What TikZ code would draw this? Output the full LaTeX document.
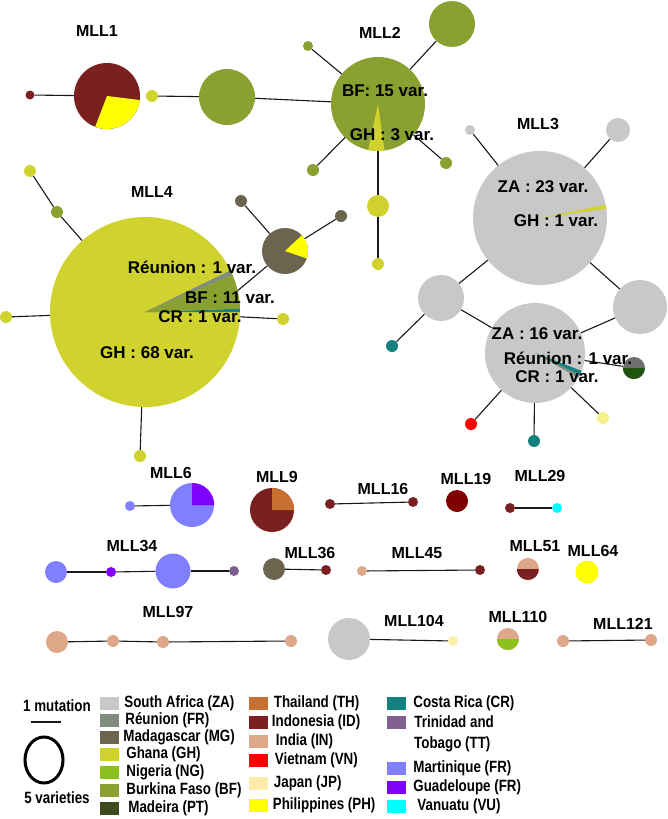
\documentclass[tikz,border=0pt]{standalone}
\usepackage{fontspec}
\setmainfont{Liberation Sans}
\newfontfamily\legfam[FakeStretch=0.82]{Liberation Sans}
\usepackage{xcolor}
\usepackage{tikz}
\usetikzlibrary{positioning}

\newcommand{\labfont}{\fontsize{16}{19}\selectfont\bfseries}
\newcommand{\varfont}{\fontsize{17}{20}\selectfont\bfseries}
\newcommand{\legfont}{\legfam\fontsize{16.3}{19}\selectfont\bfseries}

\definecolor{cZA}{RGB}{200,200,200}
\definecolor{cRE}{RGB}{128,141,126}
\definecolor{cMG}{RGB}{107,101,80}
\definecolor{cGH}{RGB}{208,210,46}
\definecolor{cNG}{RGB}{140,192,26}
\definecolor{cBF}{RGB}{138,160,48}
\definecolor{cPT}{RGB}{62,74,26}
\definecolor{cTH}{RGB}{200,112,50}
\definecolor{cID}{RGB}{122,32,32}
\definecolor{cIN}{RGB}{222,168,136}
\definecolor{cVN}{RGB}{255,0,0}
\definecolor{cJP}{RGB}{253,236,170}
\definecolor{cPH}{RGB}{255,255,0}
\definecolor{cCR}{RGB}{20,128,128}
\definecolor{cTT}{RGB}{128,96,144}
\definecolor{cMQ}{RGB}{128,128,255}
\definecolor{cGP}{RGB}{128,0,255}
\definecolor{cVU}{RGB}{0,255,255}
\definecolor{cDR}{RGB}{128,0,0}
\definecolor{cPY}{RGB}{244,240,138}
\definecolor{cGR}{RGB}{110,110,110}
\definecolor{cDG}{RGB}{32,82,16}

\begin{document}
\begin{tikzpicture}[
      x=1pt, y=-1pt,
      hap/.style={circle, inner sep=0pt, draw=none},
      link/.style={line width=1.1pt, draw=black!90},
      mll/.style={font=\labfont, inner sep=0pt},
      varlab/.style={font=\varfont, inner sep=0pt},
      swatch/.style={rectangle, inner sep=0pt, minimum width=19pt, minimum height=13pt, draw=none},
      legtext/.style={font=\legfont, inner sep=0pt, anchor=west}
    ]
    \useasboundingbox (0,0) rectangle (668,819);

    % MLL1
    \node[hap, fill=cID, minimum size=66pt] (m1) at (107,96) {};
    \fill[cPH] (m1.center) -- +(-111:33pt) arc[start angle=-111, end angle=-7, radius=33pt] -- cycle;
    \node[hap, fill=cID, minimum size=9pt] (m1a) at (30,95) {};
    \node[mll] at (97,31) {MLL1};
    \draw[link] (m1a) -- (m1);

    % MLL2
    \node[hap, fill=cBF, minimum size=94pt] (m2) at (378,104) {};
    \fill[cGH] (m2.center) -- +(-102:47pt) arc[start angle=-102, end angle=-82, radius=47pt] -- cycle;
    \node[hap, fill=cGH, minimum size=12pt] (m2g) at (152,96) {};
    \node[hap, fill=cBF, minimum size=56pt] (m2h) at (227,97) {};
    \node[hap, fill=cBF, minimum size=10pt] (m2a) at (308,46) {};
    \node[hap, fill=cBF, minimum size=46pt] (m2b) at (452,24) {};
    \node[hap, fill=cBF, minimum size=12pt] (m2c) at (313,170) {};
    \node[hap, fill=cBF, minimum size=12pt] (m2d) at (446,163) {};
    \node[hap, fill=cGH, minimum size=22pt] (m2e) at (378,206) {};
    \node[hap, fill=cGH, minimum size=12pt] (m2f) at (378,264) {};
    \draw[link] (m2g) -- (m2h);
    \draw[link] (m2h) -- (m2);
    \draw[link] (m2a) -- (m2);
    \draw[link] (m2b) -- (m2);
    \draw[link] (m2c) -- (m2);
    \draw[link] (m2d) -- (m2);
    \draw[link] (m2) -- (m2e);
    \draw[link] (m2e) -- (m2f);
    \node[mll] at (380,33) {MLL2};
    \node[varlab] at (385,91) {BF: 15 var.};
    \node[varlab] at (392,135) {GH : 3 var.};

    % MLL3
    \node[hap, fill=cZA, minimum size=134pt] (m3) at (540,218) {};
    \fill[cGH] (m3.center) -- +(8:67pt) arc[start angle=8, end angle=11.5, radius=67pt] -- cycle;
    \node[hap, fill=cZA, minimum size=10pt] (m3a) at (470,130) {};
    \node[hap, fill=cZA, minimum size=24pt] (m3b) at (618,130) {};
    \node[hap, fill=cZA, minimum size=46pt] (m3c) at (441,298) {};
    \node[hap, fill=cZA, minimum size=54pt] (m3d) at (640,307) {};
    \node[hap, fill=cZA, minimum size=100pt] (m3e) at (535,353) {};
    \fill[cRE] (m3e.center) -- +(-30:50pt) arc[start angle=-30, end angle=-26, radius=50pt] -- cycle;
    \fill[cCR] (m3e.center) -- +(-26:50pt) arc[start angle=-26, end angle=-21, radius=50pt] -- cycle;
    \node[hap, fill=cGR, minimum size=22pt] (m3f) at (634,368) {};
    \fill[cDG] (m3f.west) arc[start angle=180, end angle=360, radius=11pt] -- cycle;
    \node[hap, fill=cVN, minimum size=12pt] (m3g) at (471,424) {};
    \node[hap, fill=cCR, minimum size=12pt] (m3h) at (534,441) {};
    \node[hap, fill=cPY, minimum size=12pt] (m3i) at (603,418) {};
    \node[hap, fill=cCR, minimum size=12pt] (m3j) at (392,346) {};
    \draw[link] (m3a) -- (m3);
    \draw[link] (m3b) -- (m3);
    \draw[link] (m3c) -- (m3);
    \draw[link] (m3d) -- (m3);
    \draw[link] (m3c) -- (m3e);
    \draw[link] (m3d) -- (m3e);
    \draw[link] (m3e) -- (m3f);
    \draw[link] (m3e) -- (m3g);
    \draw[link] (m3e) -- (m3h);
    \draw[link] (m3e) -- (m3i);
    \draw[link] (m3c) -- (m3j);
    \node[mll] at (538,124) {MLL3};
    \node[varlab] at (543,187) {ZA : 23 var.};
    \node[varlab] at (556,221) {GH : 1 var.};
    \node[varlab] at (537,334) {ZA : 16 var.};
    \node[varlab] at (568,358) {Réunion : 1 var.};
    \node[varlab] at (557,377) {CR : 1 var.};

    % MLL4
    \node[hap, fill=cGH, minimum size=190pt] (m4) at (145,312) {};
    \fill[cCR] (m4.center) -- +(0:95pt) arc[start angle=0, end angle=2, radius=95pt] -- cycle;
    \fill[cBF] (m4.center) -- +(2:95pt) arc[start angle=2, end angle=23, radius=95pt] -- cycle;
    \fill[cRE] (m4.center) -- +(23:95pt) arc[start angle=23, end angle=26, radius=95pt] -- cycle;
    \node[hap, fill=cGH, minimum size=12pt] (m4a) at (6,317) {};
    \node[hap, fill=cGH, minimum size=12pt] (m4b) at (140,456) {};
    \node[hap, fill=cGH, minimum size=12pt] (m4c) at (283,319) {};
    \node[hap, fill=cBF, minimum size=12pt] (m4d) at (57,212) {};
    \node[hap, fill=cGH, minimum size=12pt] (m4e) at (30,171) {};
    \node[hap, fill=cMG, minimum size=46pt] (m4f) at (285,251) {};
    \fill[cPH] (m4f.center) -- +(-19:23pt) arc[start angle=-19, end angle=43, radius=23pt] -- cycle;
    \node[hap, fill=cMG, minimum size=12pt] (m4g) at (241,201) {};
    \node[hap, fill=cMG, minimum size=12pt] (m4h) at (341,216) {};
    \draw[link] (m4a) -- (m4);
    \draw[link] (m4b) -- (m4);
    \draw[link] (m4c) -- (m4);
    \draw[link] (m4d) -- (m4);
    \draw[link] (m4e) -- (m4d);
    \draw[link] (m4f) -- (m4.13);
    \draw[link] (m4g) -- (m4f);
    \draw[link] (m4h) -- (m4f);
    \node[mll] at (152,192) {MLL4};
    \node[varlab] at (192,267) {Réunion : 1 var.};
    \node[varlab] at (230,298) {BF : 11 var.};
    \node[varlab] at (200,317) {CR : 1 var.};
    \node[varlab] at (147,353) {GH : 68 var.};

    % MLL6, MLL9
    \node[hap, fill=cMQ, minimum size=44pt] (m6) at (192,505) {};
    \fill[cGP] (m6.center) -- (m6.east) arc[start angle=0, end angle=90, radius=22pt] -- cycle;
    \node[hap, fill=cMQ, minimum size=10pt] (m6a) at (130,506) {};
    \draw[link] (m6a) -- (m6);
    \node[mll] at (171,473) {MLL6};
    \node[hap, fill=cID, minimum size=44pt] (m9) at (272,510) {};
    \fill[cTH] (m9.center) -- (m9.east) arc[start angle=0, end angle=90, radius=22pt] -- cycle;
    \node[mll] at (277,477) {MLL9};

    % MLL16, MLL19, MLL29
    \node[hap, fill=cID, minimum size=10pt] (m16a) at (330,504) {};
    \node[hap, fill=cID, minimum size=10pt] (m16b) at (413,502) {};
    \draw[link] (m16a) -- (m16b);
    \node[mll] at (383,489) {MLL16};
    \node[hap, fill=cDR, minimum size=22pt] (m19) at (457,501) {};
    \node[mll] at (466,479) {MLL19};
    \node[hap, fill=cID, minimum size=10pt] (m29a) at (510,508) {};
    \node[hap, fill=cVU, minimum size=10pt] (m29b) at (557,508) {};
    \draw[link] (m29a) -- (m29b);
    \node[mll] at (540,476) {MLL29};

    % MLL34, MLL36, MLL45, MLL51, MLL64
    \node[hap, fill=cMQ, minimum size=22pt] (m34a) at (56,572) {};
    \node[hap, fill=cGP, minimum size=10pt] (m34b) at (111,572) {};
    \node[hap, fill=cMQ, minimum size=35pt] (m34c) at (173,571) {};
    \node[hap, fill=cTT, minimum size=10pt] (m34d) at (234,571) {};
    \draw[link] (m34a) -- (m34b);
    \draw[link] (m34b) -- (m34c);
    \draw[link] (m34c) -- (m34d);
    \node[mll] at (132,546) {MLL34};
    \node[hap, fill=cMG, minimum size=22pt] (m36a) at (274,569) {};
    \node[hap, fill=cID, minimum size=10pt] (m36b) at (326,570) {};
    \draw[link] (m36a) -- (m36b);
    \node[mll] at (310,553) {MLL36};
    \node[hap, fill=cIN, minimum size=10pt] (m45a) at (362,571) {};
    \node[hap, fill=cID, minimum size=10pt] (m45b) at (480,570) {};
    \draw[link] (m45a) -- (m45b);
    \node[mll] at (417,553) {MLL45};
    \node[hap, fill=cIN, minimum size=22pt] (m51) at (528,569) {};
    \fill[cID] (m51.west) arc[start angle=180, end angle=360, radius=11pt] -- cycle;
    \node[mll] at (535,546) {MLL51};
    \node[hap, fill=cPH, minimum size=23pt] (m64) at (587,572) {};
    \node[mll] at (593,551) {MLL64};

    % MLL97, MLL104, MLL110, MLL121
    \node[hap, fill=cIN, minimum size=22pt] (m97a) at (57,642) {};
    \node[hap, fill=cIN, minimum size=12pt] (m97b) at (113,641) {};
    \node[hap, fill=cIN, minimum size=12pt] (m97c) at (163,642) {};
    \node[hap, fill=cIN, minimum size=12pt] (m97d) at (291,641) {};
    \draw[link] (m97a) -- (m97b);
    \draw[link] (m97b) -- (m97c);
    \draw[link] (m97c) -- (m97d);
    \node[mll] at (168,612) {MLL97};
    \node[hap, fill=cZA, minimum size=42pt] (m104a) at (349,639) {};
    \node[hap, fill=cJP, minimum size=10pt] (m104b) at (453,641) {};
    \draw[link] (m104a) -- (m104b);
    \node[mll] at (414,621) {MLL104};
    \node[hap, fill=cIN, minimum size=22pt] (m110) at (508,639) {};
    \fill[cNG] (m110.west) arc[start angle=180, end angle=360, radius=11pt] -- cycle;
    \node[mll] at (518,617) {MLL110};
    \node[hap, fill=cIN, minimum size=12pt] (m121a) at (563,641) {};
    \node[hap, fill=cIN, minimum size=12pt] (m121b) at (651,640) {};
    \draw[link] (m121a) -- (m121b);
    \node[mll] at (623,624) {MLL121};

    % legend: scale
    \node[font=\legfont, inner sep=0pt] (mut) at (57,706) {1 mutation};
    \coordinate (mutL) at (31,722);
    \coordinate (mutR) at (61,722);
    \draw[link] (mutL) -- (mutR);
    \draw[line width=3pt] (44,760) ellipse [x radius=19pt, y radius=23pt];
    \node[font=\legfont, inner sep=0pt] (five) at (57,798) {5 varieties};

    % legend: countries
    \node[swatch, fill=cZA] (sZA) at (109.5,703) {};
    \node[swatch, fill=cRE] (sRE) at (109.5,720) {};
    \node[swatch, fill=cMG] (sMG) at (109.5,737) {};
    \node[swatch, fill=cGH] (sGH) at (109.5,754) {};
    \node[swatch, fill=cNG] (sNG) at (109.5,772) {};
    \node[swatch, fill=cBF] (sBF) at (109.5,790) {};
    \node[swatch, fill=cPT] (sPT) at (109.5,808) {};
    \node[legtext, right=5pt of sZA] {South Africa (ZA)};
    \node[legtext, right=6pt of sRE] {Réunion (FR)};
    \node[legtext, right=4pt of sMG] {Madagascar (MG)};
    \node[legtext, right=7pt of sGH] {Ghana (GH)};
    \node[legtext, right=7pt of sNG] {Nigeria (NG)};
    \node[legtext, right=7pt of sBF] {Burkina Faso (BF)};
    \node[legtext, right=9pt of sPT] {Madeira (PT)};

    \node[swatch, fill=cTH] (sTH) at (258,703) {};
    \node[swatch, fill=cID] (sID) at (258,722) {};
    \node[swatch, fill=cIN] (sIN) at (258,741) {};
    \node[swatch, fill=cVN] (sVN) at (258,760) {};
    \node[swatch, fill=cJP] (sJP) at (258,783) {};
    \node[swatch, fill=cPH] (sPH) at (258,805) {};
    \node[legtext, right=6pt of sTH] {Thailand (TH)};
    \node[legtext, right=4pt of sID] {Indonesia (ID)};
    \node[legtext, right=8pt of sIN] {India (IN)};
    \node[legtext, right=7pt of sVN] {Vietnam (VN)};
    \node[legtext, right=6pt of sJP] {Japan (JP)};
    \node[legtext, right=5pt of sPH] {Philippines (PH)};

    \node[swatch, fill=cCR] (sCR) at (396.5,703) {};
    \node[swatch, fill=cTT] (sTT) at (396.5,722) {};
    \node[swatch, fill=cMQ] (sMQ) at (396.5,768) {};
    \node[swatch, fill=cGP] (sGP) at (396.5,787) {};
    \node[swatch, fill=cVU] (sVU) at (396.5,806) {};
    \node[legtext, right=7pt of sCR] {Costa Rica (CR)};
    \node[legtext, right=8pt of sTT] (tTT) {Trinidad and};
    \node[legtext] at (414,744) {Tobago (TT)};
    \node[legtext, right=7pt of sMQ] {Martinique (FR)};
    \node[legtext, right=7pt of sGP] {Guadeloupe (FR)};
    \node[legtext, right=11pt of sVU] {Vanuatu (VU)};
  \end{tikzpicture}
\end{document}
